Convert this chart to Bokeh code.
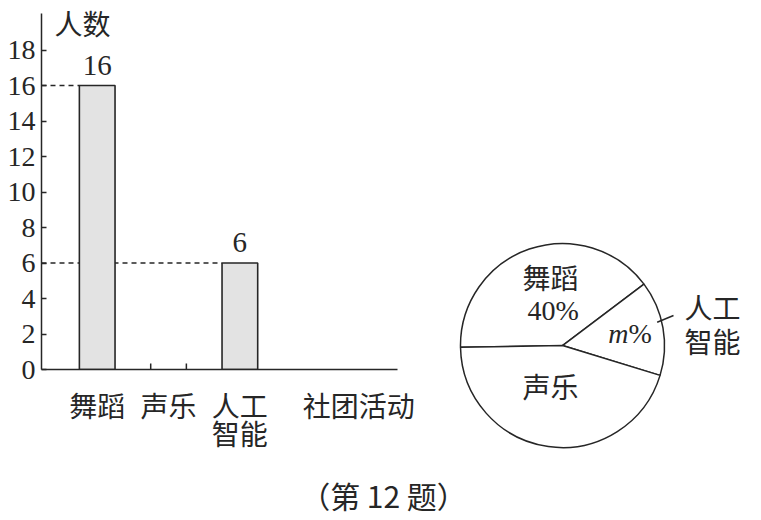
import math
from bokeh.plotting import figure
from bokeh.layouts import column, row
from bokeh.models import Range1d, FixedTicker
from bokeh.core.properties import value
from bokeh.embed import file_html
from bokeh.resources import INLINE

# ---- data ----
categories = ["舞蹈", "声乐", "人工智能"]
tick_labels = ["舞蹈", "声乐", "人工\n智能"]
counts = [16, None, 6]
y_ticks = [0, 2, 4, 6, 8, 10, 12, 14, 16, 18]
y_axis_name = "人数"
x_axis_name = "社团活动"

pie_labels = ["舞蹈", "人工智能", "声乐"]
pie_pct = [40, 15, 45]
caption = "（第 12 题）"

CJK = "Noto Sans CJK SC"
SERIF = "Liberation Serif"
INK = "#262626"

# ---- bar chart ----
x_pos = [i + 1 for i in range(len(categories))]
x_name_pos = 4.665
x_start, x_end = 0.219, 5.21
y_axis_top = 20.06
bar = figure(width=430, height=470, x_range=Range1d(x_start, x_end), y_range=Range1d(0, 20.68),
             output_backend="svg", toolbar_location=None,
             min_border_left=41, min_border_right=33, min_border_top=2, min_border_bottom=101)
bar.frame_align = False
bar.outline_line_color = None
bar.grid.visible = False
bar.background_fill_color = "white"
bar.border_fill_color = "white"

ya = bar.yaxis[0]
ya.bounds = (0, y_axis_top)
ya.ticker = FixedTicker(ticks=y_ticks)
ya.major_tick_in = 5
ya.major_tick_out = 0
ya.minor_tick_line_color = None
ya.axis_line_width = 1.5
ya.axis_line_color = INK
ya.major_tick_line_color = INK
ya.major_tick_line_width = 1.5
ya.major_label_text_font = SERIF
ya.major_label_text_font_size = "28px"
ya.major_label_text_color = INK
ya.major_label_standoff = 6

xa = bar.xaxis[0]
xa.ticker = FixedTicker(ticks=x_pos + [x_name_pos])
overrides = {x: lab for x, lab in zip(x_pos, tick_labels)}
overrides[x_name_pos] = x_axis_name
xa.major_label_overrides = overrides
xa.major_tick_line_color = None
xa.minor_tick_line_color = None
xa.axis_line_width = 1.5
xa.axis_line_color = INK
xa.major_label_text_font = CJK
xa.major_label_text_font_size = "28px"
xa.major_label_text_color = INK
xa.major_label_text_line_height = 0.72
xa.major_label_standoff = 9

bx = [x for x, c in zip(x_pos, counts) if c is not None]
bt = [c for c in counts if c is not None]
bw = 0.5
# dashed guides from the axis to each bar
bar.segment(x0=[x_start] * len(bt), y0=bt, x1=[x - bw / 2 for x in bx], y1=bt,
            line_color=INK, line_width=1.6, line_dash="5 4")
bar.vbar(x=bx, top=bt, width=bw, bottom=0, fill_color="#e3e3e3",
         line_color=INK, line_width=1.6)
# edge marks of the unknown bar
ex = [x for x, c in zip(x_pos, counts) if c is None]
bar.segment(x0=[x + s * bw / 2 for x in ex for s in (-1, 1)], y0=0,
            x1=[x + s * bw / 2 for x in ex for s in (-1, 1)], y1=0.34,
            line_color=INK, line_width=1.5)
bar.text(x=bx, y=[c + 1.13 for c in bt], text=[str(c) for c in bt],
         text_align="center", text_baseline="middle",
         text_font=value(SERIF), text_font_size="29px", text_color=INK)
bar.text(x=[0.794], y=[19.55], text=[y_axis_name], text_align="center", text_baseline="middle",
         text_font=value(CJK), text_font_size="28px", text_color=INK)

# ---- pie chart ----
pie = figure(width=329, height=470, x_range=Range1d(-1.294, 1.931), y_range=Range1d(-1.225, 3.382),
             output_backend="svg", toolbar_location=None, min_border=0)
pie.frame_align = False
pie.axis.visible = False
pie.grid.visible = False
pie.outline_line_color = None
pie.background_fill_color = "white"
pie.border_fill_color = "white"

start = math.radians(181)
tot = sum(pie_pct)
cum = 0
starts, ends = [], []
for v in pie_pct:
    a0 = start - 2 * math.pi * cum / tot
    cum += v
    a1 = start - 2 * math.pi * cum / tot
    starts.append(a1)
    ends.append(a0)
pie.wedge(x=0, y=0, radius=1.0, start_angle=starts, end_angle=ends, direction="anticlock",
          fill_color="white", line_color=INK, line_width=1.5)

pie.text(x=[-0.118, -0.118], y=[0.676, -0.392], text=[pie_labels[0], pie_labels[2]],
         text_align="center", text_baseline="middle",
         text_font=value(CJK), text_font_size="28px", text_color=INK)
pie.text(x=[-0.091], y=[0.343], text=[f"{pie_pct[0]}%"], text_align="center", text_baseline="middle",
         text_font=value(SERIF), text_font_size="28px", text_color=INK)
pie.text(x=[0.647], y=[0.118], text=["m"], text_align="right", text_baseline="middle",
         text_font=value(SERIF), text_font_style="italic", text_font_size="28px", text_color=INK)
pie.text(x=[0.647], y=[0.118], text=["%"], text_align="left", text_baseline="middle",
         text_font=value(SERIF), text_font_size="28px", text_color=INK)
pie.text(x=[1.471, 1.471], y=[0.382, 0.049], text=["人工", "智能"],
         text_align="center", text_baseline="middle",
         text_font=value(CJK), text_font_size="28px", text_color=INK)
pie.segment(x0=[0.928], y0=[0.228], x1=[1.088], y1=[0.294], line_color=INK, line_width=1.5)

# ---- caption ----
cap = figure(width=759, height=48, x_range=Range1d(0, 759), y_range=Range1d(0, 48),
             output_backend="svg", toolbar_location=None, min_border=0)
cap.frame_align = False
cap.axis.visible = False
cap.grid.visible = False
cap.outline_line_color = None
cap.text(x=[383], y=[24], text=[caption], text_align="center", text_baseline="middle",
         text_font=value(CJK), text_font_size="30px", text_color=INK)

layout = column(row(bar, pie), cap)
open("out.html", "w").write(file_html(layout, INLINE))
